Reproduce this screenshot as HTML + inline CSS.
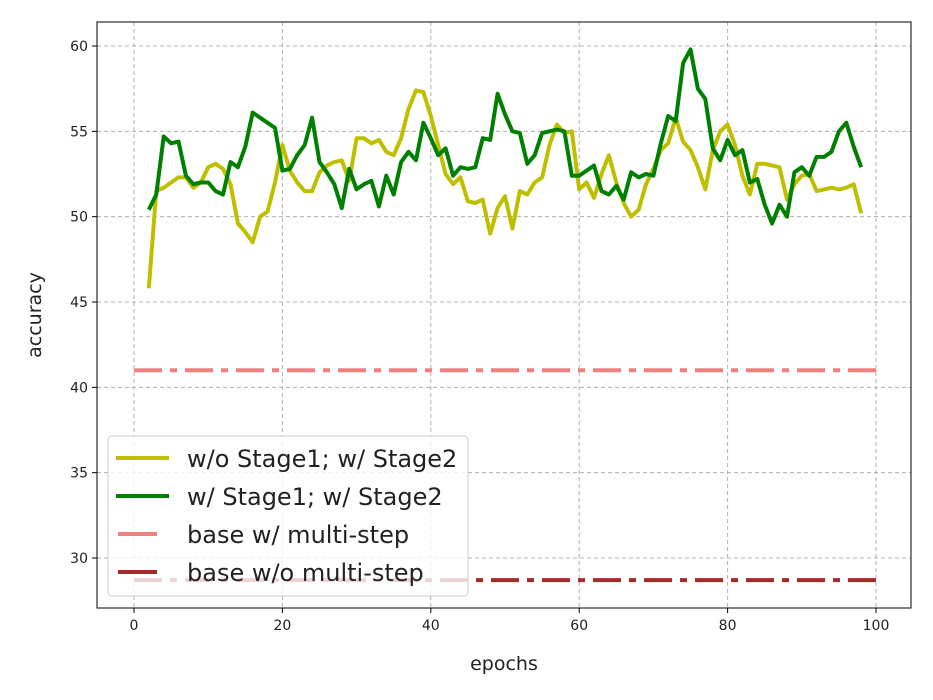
<!DOCTYPE html>
<html><head><meta charset="utf-8">
<style>
body{margin:0;background:#fff;}
svg{display:block;font-family:"DejaVu Sans","Liberation Sans",sans-serif;}
</style></head>
<body>
<svg id="chart" width="933" height="700">
<g id="grid"></g>
<g id="series"></g>
<g id="axes"></g>
<g id="legend"></g>
</svg>
<script>
const xTicks=[0,20,40,60,80,100];
const yTicks=[30,35,40,45,50,55,60];
const epochs=[];for(let e=2;e<=98;e++)epochs.push(e);
const yellowVals=[45.8,51.5,51.7,52.0,52.3,52.3,51.7,52.0,52.9,53.1,52.8,51.9,49.6,49.1,48.5,50.0,50.3,52.0,54.2,52.7,52.0,51.5,51.5,52.6,53.0,53.2,53.3,52.1,54.6,54.6,54.3,54.5,53.8,53.6,54.6,56.3,57.4,57.3,55.9,54.2,52.5,51.9,52.3,50.9,50.8,51.0,49.0,50.5,51.2,49.3,51.5,51.3,52.0,52.3,54.2,55.4,54.9,55.0,51.6,52.0,51.1,52.5,53.6,52.0,50.8,50.0,50.4,51.9,52.8,53.9,54.3,55.8,54.4,53.9,52.9,51.6,53.9,55.0,55.4,54.2,52.4,51.3,53.1,53.1,53.0,52.9,51.0,51.9,52.4,52.5,51.5,51.6,51.7,51.6,51.7,51.9,50.2];
const greenVals=[50.4,51.3,54.7,54.3,54.4,52.4,51.9,52.0,52.0,51.5,51.3,53.2,52.9,54.1,56.1,55.8,55.5,55.2,52.7,52.8,53.6,54.2,55.8,53.2,52.6,51.9,50.5,52.8,51.6,51.9,52.1,50.6,52.4,51.3,53.2,53.8,53.3,55.5,54.6,53.6,54.0,52.4,52.9,52.8,52.9,54.6,54.5,57.2,56.0,55.0,54.9,53.1,53.6,54.9,55.0,55.1,55.0,52.4,52.4,52.7,53.0,51.5,51.3,51.8,51.0,52.6,52.3,52.5,52.4,54.3,55.9,55.6,59.0,59.8,57.5,56.9,54.0,53.3,54.5,53.6,53.9,52.0,52.2,50.7,49.6,50.7,50.0,52.6,52.9,52.4,53.5,53.5,53.8,55.0,55.5,54.1,52.9];
const baseMulti=41.0;
const baseNoMulti=28.7;
const baseRange=[0,100];

const L=97,R=911,T=22,B=608;
const sx=v=>134+(v-0)*(876-134)/100;
const sy=v=>46+(60-v)*(558-46)/30;
const NS='http://www.w3.org/2000/svg';
function mk(tag,attrs,parent){const el=document.createElementNS(NS,tag);for(const k in attrs)el.setAttribute(k,attrs[k]);parent.appendChild(el);return el;}
const grid=document.getElementById('grid'),series=document.getElementById('series'),axes=document.getElementById('axes'),legend=document.getElementById('legend');

xTicks.forEach(t=>{const x=sx(t);
 const g=mk('line',{x1:x,x2:x,y1:T,y2:B,stroke:'#b0b0b0','stroke-width':1,'stroke-dasharray':'4 3'},grid);
 
 const tk=mk('line',{x1:x,x2:x,y1:B,y2:B+5,stroke:'#000','stroke-width':1},axes);
 
 const tx=mk('text',{x:x,y:B+22,'text-anchor':'middle','font-size':14,fill:'#222'},axes);tx.textContent=t;
 
});
yTicks.forEach(t=>{const y=sy(t);
 const g=mk('line',{x1:L,x2:R,y1:y,y2:y,stroke:'#b0b0b0','stroke-width':1,'stroke-dasharray':'4 3'},grid);
 
 const tk=mk('line',{x1:L-5,x2:L,y1:y,y2:y,stroke:'#000','stroke-width':1},axes);
 
 const tx=mk('text',{x:L-9,y:y+5,'text-anchor':'end','font-size':14,fill:'#222'},axes);tx.textContent=t;
 
});
const frame=mk('rect',{x:L,y:T,width:R-L,height:B-T,fill:'none',stroke:'#000','stroke-width':1},axes);

const xl=mk('text',{x:(L+R)/2,y:670,'text-anchor':'middle','font-size':19,fill:'#222'},axes);xl.textContent='epochs';

const yl=mk('text',{x:0,y:0,'text-anchor':'middle','font-size':19,fill:'#222',transform:`translate(41,${(T+B)/2}) rotate(-90)`},axes);yl.textContent='accuracy';


const dash='28 8 7 8';
const h1=mk('line',{x1:sx(baseRange[0]),x2:sx(baseRange[1]),y1:sy(baseMulti),y2:sy(baseMulti),stroke:'#f08080','stroke-width':4,'stroke-dasharray':dash},series);

const h2=mk('line',{x1:sx(baseRange[0]),x2:sx(baseRange[1]),y1:sy(baseNoMulti),y2:sy(baseNoMulti),stroke:'#a52a2a','stroke-width':4,'stroke-dasharray':dash},series);

function pts(vals){return vals.map((v,i)=>sx(epochs[i]).toFixed(1)+','+sy(v).toFixed(1)).join(' ');}
const py=mk('polyline',{points:pts(yellowVals),fill:'none',stroke:'#bfbf00','stroke-width':4,'stroke-linejoin':'round'},series);

const pg=mk('polyline',{points:pts(greenVals),fill:'none',stroke:'#008000','stroke-width':4,'stroke-linejoin':'round'},series);


const box=mk('rect',{x:108,y:436,width:360,height:160,rx:4,fill:'rgba(255,255,255,0.8)',stroke:'#ccc','stroke-width':1},legend);

const entries=[['w/o Stage1; w/ Stage2','#bfbf00',false],['w/ Stage1; w/ Stage2','#008000',false],['base w/ multi-step','#f08080',true],['base w/o multi-step','#a52a2a',true]];
const rowsY=[458,496,534,572];
entries.forEach((e,i)=>{const y=rowsY[i];
 const ln=mk('line',{x1:e[2]?118:116,x2:e[2]?157:169,y1:y,y2:y,stroke:e[1],'stroke-width':4},legend);
 
 const t=mk('text',{x:187,y:y+9,'font-size':24,fill:'#222'},legend);t.textContent=e[0];
 
});
</script>
</body></html>
